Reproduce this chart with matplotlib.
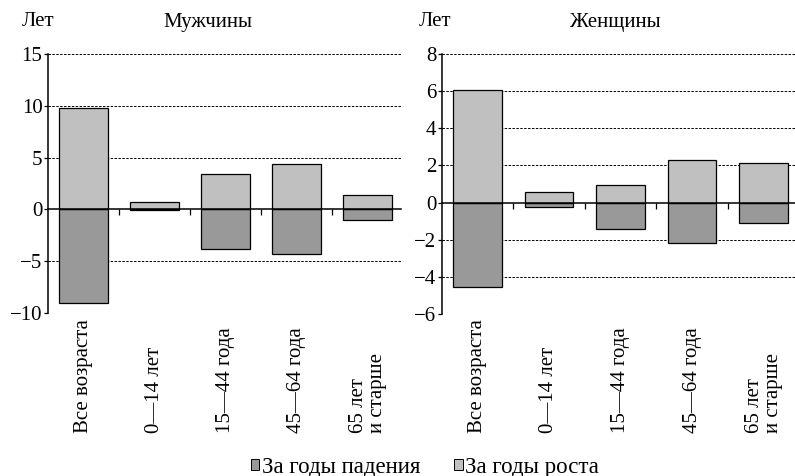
import numpy as np
import matplotlib
matplotlib.use("Agg")
import matplotlib.pyplot as plt
from matplotlib.patches import Patch
from matplotlib.transforms import blended_transform_factory

plt.rcParams["font.family"] = ["Liberation Serif", "DejaVu Serif"]

categories = ["Все возраста", "0—14 лет", "15—44 года", "45—64 года", "65 лет\nи старше"]

men_growth = [9.8, 0.7, 3.4, 4.4, 1.4]
men_fall = [-9.0, -0.1, -3.8, -4.35, -1.0]
women_growth = [6.05, 0.55, 0.95, 2.3, 2.12]
women_fall = [-4.55, -0.25, -1.4, -2.2, -1.1]

men_ticks = [-10, -5, 0, 5, 10, 15]
women_ticks = [-6, -4, -2, 0, 2, 4, 6, 8]

COLOR_FALL = "#999999"
COLOR_GROWTH = "#c0c0c0"
FS = 15

fig = plt.figure(figsize=(7.95, 4.76), dpi=100)
ax_m = fig.add_axes([48 / 795, 163 / 476, 353 / 795, 259 / 476])
ax_w = fig.add_axes([441.7 / 795, 162 / 476, 353.3 / 795, 260 / 476])


def draw_panel(ax, growth, fall, ticks, xmax, title, title_x, let_x):
    x = np.arange(len(categories))
    ax.bar(x, fall, width=0.68, color=COLOR_FALL, edgecolor="black", linewidth=0.9, zorder=3)
    ax.bar(x, growth, width=0.68, color=COLOR_GROWTH, edgecolor="black", linewidth=0.9, zorder=3)
    ax.set_xlim(-0.5, xmax)
    ax.set_ylim(ticks[0], ticks[-1])
    ax.set_yticks(ticks)
    ax.set_yticklabels([f"{t}" if t >= 0 else f"\u2212{-t}" for t in ticks], fontsize=FS)
    ax.tick_params(axis="y", direction="out", length=3, width=0.9, pad=1)

    # пунктирная сетка, кроме нуля
    for t in ticks:
        if t != 0:
            ax.axhline(t, color="black", linewidth=0.7, linestyle=(0, (2.5, 1.5)), zorder=1)

    for s in ("top", "right"):
        ax.spines[s].set_visible(False)
    ax.spines["left"].set_linewidth(1.1)
    ax.spines["bottom"].set_position(("data", 0))
    ax.spines["bottom"].set_linewidth(1.1)
    ax.spines["bottom"].set_zorder(4)
    ax.set_xticks(x[:-1] + 0.5)
    ax.set_xticklabels([])
    ax.tick_params(axis="x", direction="out", length=4, width=0.9)

    # подписи категорий внизу, повернутые
    tr = blended_transform_factory(ax.transData, fig.transFigure)
    for xi, lab in zip(x, categories):
        ax.text(xi, 43 / 476, lab, rotation=90, ha="center", va="bottom",
                multialignment="left", fontsize=FS, transform=tr, linespacing=1.0)

    fig.text(title_x, 454 / 476, title, fontsize=FS, ha="center", va="center")
    fig.text(let_x, 454 / 476, "Лет", fontsize=FS, ha="left", va="center")


draw_panel(ax_m, men_growth, men_fall, men_ticks, 4.47, "Мужчины", 208 / 795, 22 / 795)
draw_panel(ax_w, women_growth, women_fall, women_ticks, 4.44, "Женщины", 615 / 795, 419 / 795)

handles = [Patch(facecolor=COLOR_FALL, edgecolor="black", linewidth=0.7),
           Patch(facecolor=COLOR_GROWTH, edgecolor="black", linewidth=0.7)]
fig.legend(handles, ["За годы падения", "За годы роста"], loc="center",
           bbox_to_anchor=(425 / 795, 9 / 476), ncol=2, frameon=False, fontsize=16.5,
           handlelength=0.38, handleheight=0.38, handletextpad=0.1, columnspacing=1.5,
           borderaxespad=0, borderpad=0)

fig.savefig("out.png", dpi=100)
